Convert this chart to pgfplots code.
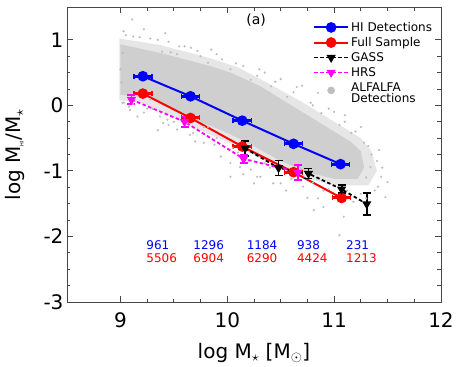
\documentclass[border=0pt]{standalone}
\usepackage{fontspec}
\setmainfont{DejaVu Sans}
\usepackage{pgfplots}
\pgfplotsset{compat=1.18}
\definecolor{alfa}{RGB}{190,190,190}
\definecolor{alfaout}{RGB}{230,230,230}
\definecolor{alfacore}{RGB}{207,207,207}
\definecolor{frame}{RGB}{70,70,70}
\definecolor{hrs}{RGB}{255,0,255}
\definecolor{hiblue}{RGB}{0,0,255}
\definecolor{fullred}{RGB}{255,0,0}

\begin{document}
\begin{tikzpicture}
\begin{axis}[scale only axis,width=374pt,height=295pt,
  xmin=8.5,xmax=12,ymin=-3,ymax=1.5,
  xtick={9,10,11,12},ytick={-3,-2,-1,0,1},
  minor x tick num=3,minor y tick num=3,
  tick align=inside,major tick length=6pt,minor tick length=3.5pt,
  axis line style={frame,line width=0.8pt},every tick/.style={frame,line width=0.8pt},
  /pgf/number format/assume math mode=true,
  tick label style={font=\fontsize{20}{22}\selectfont},
  label style={font=\fontsize{20}{22}\selectfont},
  xticklabel shift=7pt,
  xlabel={log M$_\star$ [M$_\odot$]},
  xlabel shift=9pt,
  ylabel={log M\textsubscript{\tiny HI}/M$_\star$},
  ylabel shift=12pt,
  legend cell align=left,
  legend image code/.code={\draw[mark repeat=2,mark phase=2,#1] plot coordinates {(0pt,0pt)(17pt,0pt)(34pt,0pt)};},
  legend style={draw=none,fill=none,font=\fontsize{12}{13.5}\selectfont,
    at={(rel axis cs:0.99,0.963)},anchor=north east,row sep=0.5pt},
  clip=false]

% ALFALFA detections: dense cloud and scattered outliers
\addplot[draw=none,fill=alfaout,forget plot] coordinates {
  (8.99,1.02)(9.37,0.92)(9.84,0.72)(10.1,0.58)(10.4,0.32)(10.7,0.05)(11.0,-0.25)(11.25,-0.5)
  (11.35,-0.7)(11.4,-1.0)(11.32,-1.22)(11.0,-1.22)(10.7,-1.1)(10.45,-0.92)(10.15,-0.68)
  (9.95,-0.52)(9.7,-0.35)(9.45,-0.15)(9.2,0.04)(8.99,0.08)} -- cycle;
\addplot[draw=none,fill=alfacore,forget plot] coordinates {
  (9.0,0.93)(9.37,0.80)(9.84,0.6)(10.03,0.5)(10.3,0.3)(10.6,0.0)(10.9,-0.3)(11.15,-0.55)
  (11.25,-0.7)(11.28,-0.95)(11.22,-1.12)(11.0,-1.12)(10.75,-1.02)(10.5,-0.85)(10.2,-0.58)
  (10.0,-0.42)(9.75,-0.25)(9.5,-0.05)(9.25,0.12)(9.0,0.16)} -- cycle;
\addplot[only marks,mark=*,mark size=0.9pt,alfa,forget plot] coordinates {
  (9.11,1.31)(9.03,1.13)(9.22,1.16)(9.35,1.0)(9.39,0.82)(9.47,0.81)(9.53,0.78)(9.75,0.75)
  (9.02,0.04)(9.16,-0.17)(9.28,0.09)(9.44,-0.22)(9.82,-0.33)
  (9.82,0.65)(10.03,0.55)(10.22,0.39)(10.41,0.29)(10.56,0.13)(10.78,0.04)(10.85,0.19)
  (9.94,-0.78)(10.12,-0.94)(10.03,-1.09)(10.28,-1.09)(10.43,-1.19)(9.78,-0.57)
  (11.28,-0.57)(11.34,-0.94)(11.44,-1.09)(11.5,-1.17)(11.48,-1.4)(11.18,-1.47)(11.09,-1.7)
  (10.9,-1.55)(10.81,-1.6)(10.75,-1.41)(11.41,-1.24)(11.25,-0.33)(11.16,-0.42)(11.05,-1.98)
  (9.03,0.04)(9.09,-0.07)(9.22,-0.11)(9.37,-0.17)(9.5,-0.25)(9.4,-0.27)(9.53,-0.37)
  (9.68,-0.42)(9.78,-0.33)(10.03,-0.88)(10.22,-0.98)(10.31,-1.09)(10.5,-1.19)(10.71,-1.24)
  (10.25,-1.19)(9.6,0.9)(9.9,0.78)(10.15,0.6)(10.35,0.5)(10.7,0.3)(11.0,-0.1)(11.1,-0.25)
  (9.12,1.05)(9.28,1.02)(9.66,0.88)(10.5,0.4)(10.95,-0.05)(11.35,-0.75)(11.45,-0.95)
  (9.08,-0.02)(9.3,-0.05)(9.62,-0.28)(9.9,-0.5)(10.05,-0.65)(10.4,-0.95)(10.6,-1.12)
  (10.9,-1.3)(11.25,-1.35)(11.3,-1.1)
  (9.05,1.07)(9.18,1.04)(9.45,0.97)(9.55,0.9)(9.72,0.83)(9.95,0.7)(10.08,0.64)(10.28,0.45)
  (10.45,0.36)(10.62,0.2)(10.8,0.0)(10.88,-0.12)(11.05,-0.3)(11.2,-0.4)(11.32,-0.62)
  (11.4,-0.85)(11.38,-1.3)(11.12,-1.3)(10.95,-1.28)(10.8,-1.18)(10.62,-1.05)(10.35,-0.88)
  (10.1,-0.72)(9.88,-0.6)(9.65,-0.45)(9.45,-0.3)(9.25,-0.05)(9.12,0.02)(9.0,0.55)(9.01,0.35)
  (9.02,0.8)(9.42,1.1)(9.85,0.85)(10.3,0.55)(10.65,0.28)(11.1,-0.15)(11.42,-0.68)
  (11.3,-1.42)(10.85,-1.42)(10.55,-1.3)(10.15,-1.05)(9.7,-0.55)(9.35,-0.38)};

% HI detections
\addplot[hiblue,line width=2pt,mark=*,mark size=4.3pt,
  error bars/.cd,x dir=both,x explicit,y dir=both,y explicit,
  error bar style={line width=3pt},error mark options={rotate=90,mark size=2.5pt,line width=1.5pt}]
  coordinates {(9.21,0.444) +- (0.085,0.03) (9.656,0.138) +- (0.085,0.03) (10.14,-0.234) +- (0.085,0.03)
  (10.62,-0.587) +- (0.085,0.03) (11.06,-0.897) +- (0.085,0.03)};
\addlegendentry{HI Detections}
% full sample
\addplot[fullred,line width=2pt,mark=*,mark size=4.3pt,
  error bars/.cd,x dir=both,x explicit,y dir=both,y explicit,
  error bar style={line width=3pt},error mark options={rotate=90,mark size=2.5pt,line width=1.5pt}]
  coordinates {(9.21,0.179) +- (0.085,0.03) (9.656,-0.193) +- (0.085,0.03) (10.14,-0.628) +- (0.085,0.04)
  (10.62,-1.02) +- (0.085,0.04) (11.07,-1.413) +- (0.085,0.03)};
\addlegendentry{Full Sample}
% GASS
\addplot[black,line width=1.8pt,dash pattern=on 3.5pt off 2.5pt,mark=triangle*,mark size=3.6pt,
  mark options={solid,rotate=180},
  error bars/.cd,y dir=both,y explicit,
  error bar style={line width=1.8pt,solid},error mark options={rotate=90,mark size=4pt,line width=1.8pt,solid}]
  coordinates {(10.167,-0.655) +- (0,0.115) (10.48,-0.955) +- (0,0.115) (10.76,-1.04) +- (0,0.075)
  (11.07,-1.28) +- (0,0.06) (11.305,-1.505) +- (0,0.165)};
\addlegendentry{GASS}
% HRS
\addplot[hrs,line width=1.8pt,dash pattern=on 3.5pt off 2.5pt,mark=triangle*,mark size=3.6pt,
  mark options={solid,rotate=180},
  error bars/.cd,y dir=both,y explicit,
  error bar style={line width=1.8pt,solid},error mark options={rotate=90,mark size=4pt,line width=1.8pt,solid}]
  coordinates {(9.103,0.087) +- (0,0.07) (9.60,-0.25) +- (0,0.08) (10.153,-0.816) +- (0,0.06)
  (10.66,-1.02) +- (0,0.115)};
\addlegendentry{HRS}
\addlegendimage{only marks,mark=*,mark size=3.6pt,alfa}
\addlegendentry{\begin{tabular}{@{}l@{}}ALFALFA\\[-3pt]Detections\end{tabular}}

\node[font=\fontsize{14}{16}\selectfont] at (axis cs:10.27,1.3) {(a)};
\begin{scope}[font=\fontsize{12}{14}\selectfont]
\node[anchor=west,hiblue] at (axis cs:9.21,-2.13) {961};
\node[anchor=west,hiblue] at (axis cs:9.65,-2.13) {1296};
\node[anchor=west,hiblue] at (axis cs:10.15,-2.13) {1184};
\node[anchor=west,hiblue] at (axis cs:10.62,-2.13) {938};
\node[anchor=west,hiblue] at (axis cs:11.08,-2.13) {231};
\node[anchor=west,fullred] at (axis cs:9.21,-2.33) {5506};
\node[anchor=west,fullred] at (axis cs:9.65,-2.33) {6904};
\node[anchor=west,fullred] at (axis cs:10.15,-2.33) {6290};
\node[anchor=west,fullred] at (axis cs:10.62,-2.33) {4424};
\node[anchor=west,fullred] at (axis cs:11.08,-2.33) {1213};
\end{scope}
\end{axis}
\path (current axis.south west) ++(-67pt,-64pt) rectangle ++(474pt,366pt);
\end{tikzpicture}
\end{document}
